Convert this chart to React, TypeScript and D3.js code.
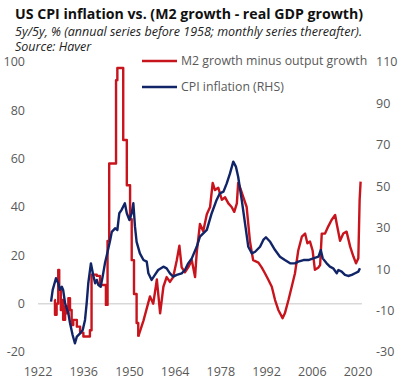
import React from "react";
import * as d3 from "d3";

// ---------- DATA ----------
// M2 growth minus output growth (left axis), annual part drawn as steps
const m2Annual: [number, number][] = [
  [1927.0, 1.5], [1927.2, -4.6], [1927.7, 0], [1928.2, 14], [1928.5, 5.7], [1929.0, -2.6],
  [1929.4, 1.5], [1929.7, -6.7], [1930.3, -1.2], [1930.8, -4], [1931.3, 2.3], [1931.8, -2.6],
  [1932.3, -8.8], [1932.8, -6.7], [1933.9, -9.5], [1934.9, -12], [1935.9, -13.6], [1937.9, -11],
  [1938.4, 12], [1940.0, 11.5], [1941.0, 7.7], [1942.8, -0.5], [1943.3, 26], [1943.8, 58],
  [1945.9, 92.5], [1946.3, 97.5], [1948.1, 67.7], [1949.2, 49], [1950.2, 35], [1950.7, 18],
  [1951.4, 4], [1952.2, -8], [1952.7, -13.6],
];
const m2Monthly: [number, number][] = [
  [1952.7, -13.6], [1954.3, -7], [1956.3, 3], [1957.3, 0], [1958.4, 10], [1959.4, -4],
  [1960.4, 7], [1961.4, 11], [1962.4, 9], [1963.4, 11], [1964.5, 18], [1965.3, 24],
  [1966.0, 15], [1967.0, 13], [1968.0, 15], [1969.1, 18], [1970.1, 11], [1970.6, 21],
  [1971.6, 33], [1972.6, 30], [1973.7, 37], [1974.7, 40], [1975.5, 50], [1976.2, 47],
  [1977.2, 48], [1978.3, 43], [1979.3, 44], [1980.3, 41.5], [1981.3, 40], [1982.1, 38],
  [1982.9, 41.5], [1983.3, 50], [1983.9, 48], [1984.9, 44], [1985.9, 40], [1986.4, 33],
  [1986.9, 26], [1987.5, 21], [1987.9, 18], [1989.5, 17], [1990.5, 15], [1991.5, 12.6],
  [1992.5, 10], [1993.6, 7], [1994.6, 1.5], [1995.6, -2.6], [1996.9, -6], [1997.6, -4],
  [1998.7, 1.5], [1999.7, 7], [2000.7, 12.6], [2001.7, 22], [2002.8, 27.7], [2003.8, 29],
  [2004.5, 25], [2005.3, 25.7], [2006.1, 22], [2006.8, 14], [2007.9, 15], [2008.4, 16],
  [2008.9, 29], [2009.9, 29], [2010.9, 32], [2011.9, 34.6], [2013.0, 36.7], [2013.5, 33],
  [2014.5, 26], [2015.5, 29], [2016.5, 29.8], [2017.6, 23.6], [2018.6, 19.5], [2019.4, 16.7],
  [2020.1, 18.8], [2020.5, 43], [2020.8, 50.5],
];
// CPI inflation (right axis)
const cpiSeries: [number, number][] = [
  [1926.0, -5.7], [1926.5, 0], [1927.5, 5.6], [1928.2, 3.2], [1928.7, 0], [1929.3, 1.5],
  [1929.7, 0], [1930.3, -6.5], [1931.3, -11.3], [1931.8, -16], [1932.6, -21.8], [1933.3, -25.8],
  [1933.9, -22.6], [1934.9, -21], [1935.7, -19.4], [1936.4, -14.5], [1936.9, -6.5], [1937.4, 3.2],
  [1938.2, 12.8], [1938.9, 7.2], [1939.5, 3.2], [1940.0, 4.8], [1940.5, 2.3], [1941.2, 1.5],
  [1941.8, 6.4], [1942.5, 12.8], [1943.2, 17.6], [1944.1, 24], [1944.6, 28], [1945.6, 29.7],
  [1946.3, 28.9], [1946.9, 37], [1947.6, 38.6], [1948.1, 40.2], [1948.6, 41.8], [1949.2, 37],
  [1950.0, 33.7], [1950.7, 37], [1951.2, 41.8], [1951.7, 30.5], [1952.2, 23.2], [1953.2, 17.6],
  [1954.3, 14.4], [1955.3, 13.6], [1955.8, 8], [1956.8, 4.8], [1957.8, 7.2], [1958.8, 9.6],
  [1960.4, 11.2], [1961.4, 10.4], [1962.4, 8], [1963.4, 6.4], [1964.5, 7.2], [1966.0, 8],
  [1967.0, 9.6], [1968.0, 12.8], [1969.1, 15.2], [1970.6, 20.8], [1971.6, 25.7], [1973.7, 29],
  [1975.2, 37], [1976.7, 43.4], [1977.7, 46.6], [1978.8, 47.4], [1979.8, 51.4], [1980.8, 56.2],
  [1981.8, 61.9], [1982.6, 59.5], [1983.3, 54.6], [1984.4, 43.4], [1985.4, 32.1], [1986.4, 20.8],
  [1987.5, 17.6], [1988.5, 18.4], [1990.0, 20.8], [1991.0, 24.1], [1991.8, 25.4], [1993.1, 23.2],
  [1994.6, 19.2], [1996.1, 16], [1997.6, 14.4], [1999.2, 12.8], [2000.7, 12.8], [2001.7, 13.6],
  [2003.3, 14.4], [2004.8, 14.4], [2006.3, 15.2], [2007.9, 16], [2008.6, 19.2], [2009.2, 15.2],
  [2010.4, 12.8], [2011.4, 11.2], [2012.4, 10.4], [2013.5, 8], [2014.0, 9.6], [2015.0, 8.8],
  [2016.0, 7.2], [2017.0, 6.7], [2018.1, 7.2], [2019.1, 8], [2020.1, 8.8], [2020.6, 10.4],
];
const xTicks = [1922, 1936, 1950, 1964, 1978, 1992, 2006, 2020];
const leftTicks = [100, 80, 60, 40, 20, 0, -20];
const rightTicks = [110, 90, 70, 50, 30, 10, -10, -30];
const seriesNames = ["M2 growth minus output growth", "CPI inflation (RHS)"];
const titleText = "US CPI inflation vs. (M2 growth - real GDP growth)";
const subtitleText = "5y/5y, % (annual series before 1958; monthly series thereafter).";
const sourceText = "Source: Haver";

// ---------- LAYOUT ----------
const W = 403, H = 383;
const RED = "#C8141C";
const BLUE = "#112468";
const FONT = "'Open Sans', 'Noto Sans', sans-serif";

export default function App() {
  const x = d3.scaleLinear().domain([1922, 2020]).range([38, 358]);
  const yL = d3.scaleLinear().domain([-20, 100]).range([352, 62]);
  const yR = d3.scaleLinear().domain([-30, 110]).range([352, 62]);

  const stepLine = d3.line<[number, number]>().x(d => x(d[0])).y(d => yL(d[1])).curve(d3.curveStepAfter);
  const linL = d3.line<[number, number]>().x(d => x(d[0])).y(d => yL(d[1]));
  const linR = d3.line<[number, number]>().x(d => x(d[0])).y(d => yR(d[1]));

  return (
    <svg width={W} height={H} style={{ position: "absolute", left: 0, top: 0, background: "#fff" }} fontFamily={FONT}>
      <text x={15} y={19} fontSize={15} fontWeight="bold" fill="#111" textLength={348} lengthAdjust="spacingAndGlyphs">{titleText}</text>
      <text x={15} y={35.5} fontSize={12.5} fontStyle="italic" fill="#222">{subtitleText}</text>
      <text x={15} y={51} fontSize={12.5} fontStyle="italic" fill="#222">{sourceText}</text>

      {/* zero line */}
      <line x1={x(1922)} x2={x(2021.2)} y1={yL(0)} y2={yL(0)} stroke="#d9d9d9" strokeWidth={1.5} />

      {/* left ticks */}
      {leftTicks.map(t => (
        <text key={"l" + t} x={25} y={yL(t)} dy="0.35em" textAnchor="end" fontSize={12.5} fill="#595959">{t}</text>
      ))}
      {/* right ticks */}
      {rightTicks.map(t => (
        <text key={"r" + t} x={376} y={yR(t)} dy="0.35em" textAnchor="start" fontSize={12.5} fill="#595959">{t}</text>
      ))}
      {/* x ticks */}
      {xTicks.map(t => (
        <text key={"x" + t} x={x(t)} y={376} textAnchor="middle" fontSize={12.5} fill="#595959">{t}</text>
      ))}

      {/* series */}
      <path d={stepLine(m2Annual) || ""} fill="none" stroke={RED} strokeWidth={2.4} strokeLinejoin="round" />
      <path d={linL(m2Monthly) || ""} fill="none" stroke={RED} strokeWidth={2.4} strokeLinejoin="round" />
      <path d={linR(cpiSeries) || ""} fill="none" stroke={BLUE} strokeWidth={2.4} strokeLinejoin="round" />

      {/* legend */}
      <line x1={142} x2={177} y1={61} y2={61} stroke={RED} strokeWidth={2.4} />
      <text x={181} y={61} dy="0.35em" fontSize={12.3} fill="#595959">{seriesNames[0]}</text>
      <line x1={142} x2={177} y1={87} y2={87} stroke={BLUE} strokeWidth={2.4} />
      <text x={181} y={87} dy="0.35em" fontSize={12.3} fill="#595959">{seriesNames[1]}</text>
    </svg>
  );
}
